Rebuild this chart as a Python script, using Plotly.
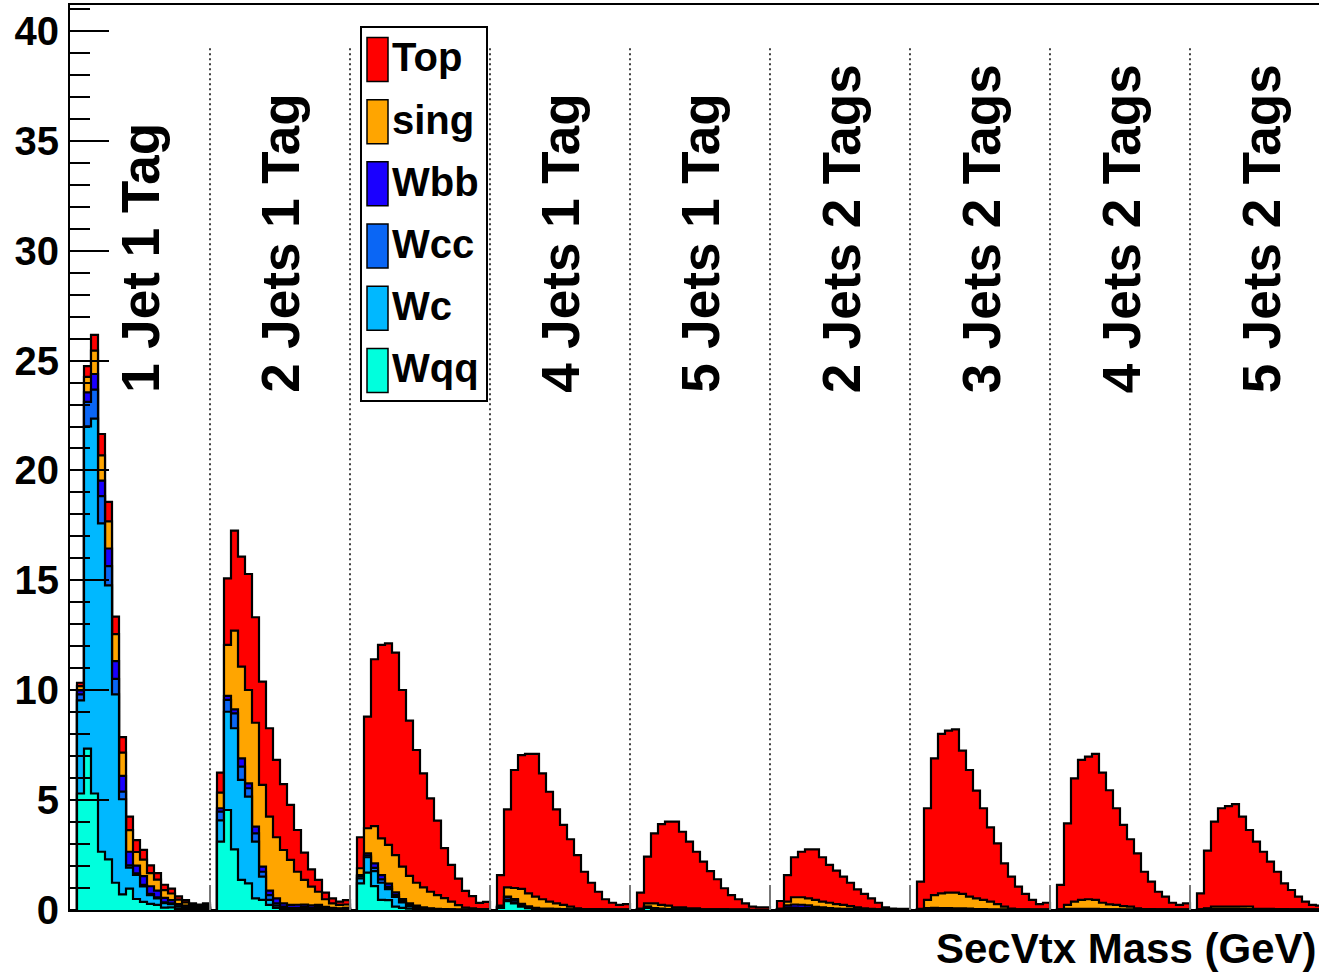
import plotly.graph_objects as go

# Analysis channels, each spanning 20 bins of the secondary-vertex mass histogram
CHANNELS = ["1 Jet 1 Tag", "2 Jets 1 Tag", "3 Jets 1 Tag", "4 Jets 1 Tag", "5 Jets 1 Tag",
            "2 Jets 2 Tags", "3 Jets 2 Tags", "4 Jets 2 Tags", "5 Jets 2 Tags"]
NBINS = 20

SAMPLES = ["Top", "sing", "Wbb", "Wcc", "Wc", "Wqq"]
COLORS = {"Top": "#ff0000", "sing": "#ffa500", "Wbb": "#1a00ff",
          "Wcc": "#0a66f5", "Wc": "#00b8ff", "Wqq": "#00ffdd"}

# Expected events per bin, one row per channel (bin 0 of each channel is empty)
TOP = [
    [0, 0.15, 0.49, 0.72, 0.97, 0.89, 0.80, 0.71, 0.62, 0.54, 0.45, 0.35, 0.30, 0.25, 0.22, 0.15, 0.10, 0.07, 0.06, 0.07],
    [0, 0.91, 3.03, 4.55, 5.01, 5.28, 4.80, 4.70, 4.02, 3.52, 3.00, 2.50, 1.90, 1.24, 0.79, 0.54, 0.30, 0.23, 0.15, 0.20],
    [0, 1.41, 5.08, 7.59, 8.80, 9.17, 9.21, 8.04, 7.07, 6.04, 5.19, 4.25, 3.39, 2.28, 1.67, 1.21, 0.76, 0.56, 0.28, 0.33],
    [0, 1.39, 3.55, 5.37, 6.09, 6.34, 6.49, 5.73, 5.00, 4.28, 3.64, 3.07, 2.42, 1.70, 1.20, 0.79, 0.46, 0.30, 0.21, 0.25],
    [0, 0.74, 2.13, 3.19, 3.68, 3.82, 3.90, 3.44, 3.03, 2.57, 2.17, 1.74, 1.37, 0.96, 0.66, 0.47, 0.28, 0.14, 0.11, 0.11],
    [0, 0.36, 1.21, 1.82, 2.07, 2.23, 2.30, 2.02, 1.72, 1.52, 1.29, 1.06, 0.82, 0.65, 0.48, 0.30, 0.09, 0.04, 0.03, 0.03],
    [0, 1.24, 4.17, 6.22, 7.25, 7.37, 7.43, 6.52, 5.76, 4.90, 4.17, 3.38, 2.76, 1.97, 1.46, 1.03, 0.70, 0.44, 0.25, 0.31],
    [0, 1.11, 3.71, 5.61, 6.37, 6.49, 6.64, 5.92, 5.19, 4.40, 3.69, 3.07, 2.50, 1.70, 1.25, 0.80, 0.58, 0.31, 0.21, 0.28],
    [0, 0.73, 2.62, 3.86, 4.47, 4.57, 4.66, 4.09, 3.48, 3.06, 2.60, 2.15, 1.70, 1.17, 0.88, 0.58, 0.36, 0.21, 0.18, 0.18],
]
SING = [
    [0, 0.20, 0.71, 1.06, 1.15, 1.23, 1.23, 1.06, 0.98, 0.62, 0.75, 0.60, 0.50, 0.35, 0.30, 0.20, 0.15, 0.10, 0.08, 0.10],
    [0, 0.71, 2.32, 3.58, 4.17, 4.25, 4.73, 3.72, 3.37, 2.78, 2.43, 2.05, 1.50, 1.12, 0.85, 0.60, 0.35, 0.20, 0.15, 0.15],
    [0, 0.31, 1.14, 1.70, 1.67, 1.76, 1.70, 1.47, 1.25, 1.04, 0.91, 0.75, 0.63, 0.50, 0.35, 0.20, 0.09, 0.05, 0.02, 0.02],
    [0, 0.05, 0.42, 0.50, 0.68, 0.59, 0.51, 0.43, 0.32, 0.25, 0.19, 0.12, 0.06, 0.02, 0.02, 0.02, 0.01, 0.01, 0.00, 0.00],
    [0, 0.00, 0.14, 0.21, 0.17, 0.16, 0.09, 0.09, 0.06, 0.06, 0.01, 0.01, 0.01, 0.01, 0.01, 0.01, 0.01, 0.01, 0.01, 0.01],
    [0, 0.00, 0.17, 0.33, 0.34, 0.32, 0.32, 0.26, 0.24, 0.21, 0.18, 0.13, 0.09, 0.05, 0.03, 0.01, 0.01, 0.00, 0.00, 0.00],
    [0, 0.01, 0.37, 0.58, 0.67, 0.70, 0.71, 0.66, 0.55, 0.49, 0.42, 0.36, 0.25, 0.13, 0.04, 0.01, 0.01, 0.00, 0.00, 0.00],
    [0, 0.01, 0.18, 0.33, 0.41, 0.44, 0.41, 0.29, 0.23, 0.20, 0.16, 0.13, 0.06, 0.02, 0.02, 0.01, 0.01, 0.00, 0.00, 0.00],
    [0, 0.01, 0.03, 0.10, 0.10, 0.10, 0.10, 0.11, 0.12, 0.03, 0.03, 0.03, 0.02, 0.02, 0.01, 0.01, 0.00, 0.00, 0.00, 0.00],
]
WBB = [
    [0, 0.18, 0.43, 0.71, 0.71, 0.80, 0.80, 0.71, 0.62, 0.35, 0.40, 0.35, 0.30, 0.20, 0.15, 0.10, 0.08, 0.05, 0.04, 0.05],
    [0, 0.15, 0.18, 0.18, 0.38, 0.22, 0.30, 0.23, 0.20, 0.23, 0.15, 0.13, 0.14, 0.10, 0.11, 0.10, 0.06, 0.04, 0.03, 0.04],
    [0, 0.05, 0.10, 0.20, 0.20, 0.15, 0.12, 0.10, 0.08, 0.06, 0.04, 0.03, 0.02, 0.01, 0.01, 0.01, 0.01, 0.01, 0.01, 0.01],
    [0, 0.01, 0.04, 0.05, 0.05, 0.04, 0.03, 0.02, 0.02, 0.02, 0.01, 0.01, 0.01, 0.01, 0.01, 0.01, 0.01, 0.01, 0.01, 0.01],
    [0, 0.01, 0.02, 0.02, 0.02, 0.02, 0.01, 0.01, 0.01, 0.01, 0.01, 0.01, 0.01, 0.01, 0.00, 0.00, 0.00, 0.00, 0.00, 0.00],
    [0, 0.01, 0.10, 0.14, 0.14, 0.12, 0.08, 0.08, 0.05, 0.03, 0.02, 0.02, 0.01, 0.01, 0.01, 0.01, 0.01, 0.01, 0.01, 0.01],
    [0, 0.01, 0.04, 0.05, 0.05, 0.05, 0.05, 0.04, 0.03, 0.02, 0.02, 0.01, 0.01, 0.01, 0.01, 0.01, 0.01, 0.01, 0.01, 0.01],
    [0, 0.01, 0.02, 0.02, 0.02, 0.02, 0.02, 0.02, 0.01, 0.01, 0.01, 0.01, 0.01, 0.01, 0.01, 0.01, 0.01, 0.01, 0.01, 0.01],
    [0, 0.01, 0.02, 0.03, 0.03, 0.03, 0.03, 0.02, 0.02, 0.01, 0.01, 0.01, 0.01, 0.01, 0.01, 0.01, 0.01, 0.01, 0.01, 0.01],
]
WCC = [
    [0, 0.27, 1.11, 1.32, 1.24, 0.88, 0.71, 0.35, 0.10, 0.07, 0.07, 0.05, 0.05, 0.04, 0.03, 0.02, 0.02, 0.01, 0.01, 0.01],
    [0, 0.40, 0.54, 0.68, 0.60, 0.38, 0.38, 0.22, 0.22, 0.10, 0.05, 0.04, 0.04, 0.05, 0.04, 0.05, 0.03, 0.02, 0.02, 0.02],
    [0, 0.10, 0.08, 0.15, 0.15, 0.10, 0.08, 0.05, 0.04, 0.03, 0.02, 0.01, 0.01, 0.01, 0.00, 0.00, 0.00, 0.00, 0.00, 0.00],
    [0, 0.01, 0.12, 0.10, 0.03, 0.02, 0.01, 0.01, 0.01, 0.01, 0.01, 0.01, 0.00, 0.00, 0.00, 0.00, 0.00, 0.00, 0.00, 0.00],
    [0, 0.01, 0.02, 0.01, 0.01, 0.00, 0.00, 0.00, 0.00, 0.00, 0.00, 0.00, 0.00, 0.00, 0.00, 0.00, 0.00, 0.00, 0.00, 0.00],
    [0, 0.01, 0.04, 0.04, 0.04, 0.04, 0.03, 0.02, 0.02, 0.01, 0.01, 0.01, 0.01, 0.01, 0.00, 0.00, 0.00, 0.00, 0.00, 0.00],
    [0, 0.01, 0.02, 0.02, 0.02, 0.02, 0.01, 0.01, 0.01, 0.01, 0.01, 0.00, 0.00, 0.00, 0.00, 0.00, 0.00, 0.00, 0.00, 0.00],
    [0, 0.00, 0.01, 0.01, 0.01, 0.01, 0.01, 0.01, 0.01, 0.01, 0.00, 0.00, 0.00, 0.00, 0.00, 0.00, 0.00, 0.00, 0.00, 0.00],
    [0, 0.00, 0.01, 0.01, 0.01, 0.01, 0.01, 0.01, 0.01, 0.00, 0.00, 0.00, 0.00, 0.00, 0.00, 0.00, 0.00, 0.00, 0.00, 0.00],
]
WC = [
    [0, 4.24, 14.67, 17.06, 14.94, 12.47, 8.57, 4.33, 0.96, 1.10, 0.70, 0.40, 0.30, 0.20, 0.15, 0.10, 0.06, 0.04, 0.03, 0.04],
    [0, 0.97, 4.47, 5.51, 4.55, 3.95, 2.58, 1.06, 0.23, 0.10, 0.05, 0.03, 0.03, 0.05, 0.03, 0.04, 0.03, 0.02, 0.02, 0.02],
    [0, 0.23, 0.70, 0.68, 0.78, 0.50, 0.45, 0.25, 0.12, 0.07, 0.04, 0.02, 0.01, 0.01, 0.01, 0.00, 0.00, 0.00, 0.00, 0.00],
    [0, 0.03, 0.05, 0.05, 0.05, 0.03, 0.02, 0.01, 0.01, 0.01, 0.01, 0.00, 0.00, 0.00, 0.00, 0.00, 0.00, 0.00, 0.00, 0.00],
    [0, 0.01, 0.02, 0.02, 0.01, 0.01, 0.01, 0.01, 0.00, 0.00, 0.00, 0.00, 0.00, 0.00, 0.00, 0.00, 0.00, 0.00, 0.00, 0.00],
    [0, 0.01, 0.03, 0.04, 0.03, 0.03, 0.02, 0.01, 0.01, 0.01, 0.01, 0.01, 0.00, 0.00, 0.00, 0.00, 0.00, 0.00, 0.00, 0.00],
    [0, 0.01, 0.01, 0.01, 0.01, 0.01, 0.01, 0.01, 0.01, 0.00, 0.00, 0.00, 0.00, 0.00, 0.00, 0.00, 0.00, 0.00, 0.00, 0.00],
    [0, 0.00, 0.01, 0.01, 0.01, 0.01, 0.01, 0.00, 0.00, 0.00, 0.00, 0.00, 0.00, 0.00, 0.00, 0.00, 0.00, 0.00, 0.00, 0.00],
    [0, 0.00, 0.01, 0.01, 0.01, 0.01, 0.01, 0.01, 0.00, 0.00, 0.00, 0.00, 0.00, 0.00, 0.00, 0.00, 0.00, 0.00, 0.00, 0.00],
]
WQQ = [
    [0, 5.30, 7.34, 5.30, 2.65, 2.30, 1.24, 0.71, 0.97, 0.50, 0.37, 0.28, 0.23, 0.11, 0.12, 0.05, 0.04, 0.03, 0.03, 0.03],
    [0, 3.11, 4.55, 2.76, 1.37, 1.21, 0.53, 0.46, 0.23, 0.10, 0.05, 0.03, 0.03, 0.05, 0.03, 0.04, 0.02, 0.02, 0.01, 0.02],
    [0, 1.21, 1.70, 1.09, 0.46, 0.45, 0.15, 0.10, 0.06, 0.04, 0.02, 0.02, 0.01, 0.01, 0.01, 0.01, 0.01, 0.01, 0.01, 0.01],
    [0, 0.10, 0.40, 0.30, 0.15, 0.08, 0.04, 0.02, 0.02, 0.01, 0.01, 0.01, 0.01, 0.01, 0.01, 0.01, 0.01, 0.01, 0.01, 0.01],
    [0, 0.02, 0.10, 0.04, 0.02, 0.01, 0.01, 0.01, 0.01, 0.01, 0.01, 0.01, 0.01, 0.01, 0.01, 0.01, 0.01, 0.00, 0.00, 0.00],
    [0, 0.02, 0.04, 0.03, 0.03, 0.02, 0.01, 0.01, 0.01, 0.01, 0.01, 0.01, 0.01, 0.01, 0.01, 0.01, 0.01, 0.01, 0.01, 0.01],
    [0, 0.01, 0.02, 0.02, 0.01, 0.01, 0.01, 0.01, 0.01, 0.01, 0.01, 0.01, 0.01, 0.01, 0.01, 0.01, 0.01, 0.01, 0.01, 0.01],
    [0, 0.01, 0.01, 0.01, 0.01, 0.01, 0.01, 0.01, 0.01, 0.01, 0.01, 0.01, 0.01, 0.01, 0.01, 0.01, 0.01, 0.01, 0.01, 0.01],
    [0, 0.01, 0.01, 0.01, 0.01, 0.01, 0.01, 0.01, 0.01, 0.01, 0.01, 0.01, 0.01, 0.01, 0.01, 0.01, 0.01, 0.01, 0.01, 0.01],
]

Y_TICKS = [0, 5, 10, 15, 20, 25, 30, 35, 40]
X_TITLE = "SecVtx Mass (GeV)"

FONT = "Liberation Sans, Arial, Helvetica, sans-serif"
YMAX = 41.18
XMAX = 178.43  # the frame runs past the right border of the canvas


def flat(rows):
    return [v for row in rows for v in row]


per_sample = {"Top": flat(TOP), "sing": flat(SING), "Wbb": flat(WBB),
              "Wcc": flat(WCC), "Wc": flat(WC), "Wqq": flat(WQQ)}
nall = len(CHANNELS) * NBINS
edges = list(range(nall + 1))

# stack from the bottom (Wqq) up to Top
stack_order = ["Wqq", "Wc", "Wcc", "Wbb", "sing", "Top"]
cumulative = {}
running = [0.0] * nall
for name in stack_order:
    running = [a + b for a, b in zip(running, per_sample[name])]
    cumulative[name] = running

fig = go.Figure()
# draw the tallest stack first so each lower component is painted over it
for name in reversed(stack_order):
    vals = cumulative[name]
    fig.add_trace(go.Scatter(
        x=edges, y=vals + [vals[-1]], mode="lines", line_shape="hv",
        line=dict(color="black", width=2.2), fill="tozeroy",
        fillcolor=COLORS[name], name=name, showlegend=False, hoverinfo="skip"))

# dotted separators between channels
for k in range(1, len(CHANNELS)):
    fig.add_shape(type="line", xref="x", yref="y", x0=k * NBINS, x1=k * NBINS,
                  y0=1.35, y1=39.3, line=dict(color="black", width=1.5, dash="2px,3px"),
                  layer="above")

# channel names, written upward; the legend box sits over the 3-jet 1-tag panel
for k, label in enumerate(CHANNELS):
    if k == 2:
        continue
    fig.add_annotation(x=k * NBINS + 10.14, y=23.44, xref="x", yref="y",
                       text=label, textangle=-90, showarrow=False,
                       xanchor="center", yanchor="bottom",
                       font=dict(family=FONT, size=53, color="black", weight="bold"))


# legend box, built from shapes and text in pixel terms
def px_x(p):
    return (p - 70) / 7.0


def px_y(p):
    return (910 - p) / 21.975


fig.add_shape(type="rect", xref="x", yref="y", x0=px_x(361), x1=px_x(487),
              y0=px_y(401), y1=px_y(27), fillcolor="white",
              line=dict(color="black", width=2), layer="above")
for i, name in enumerate(SAMPLES):
    top = 37.5 + 62.2 * i
    fig.add_shape(type="rect", xref="x", yref="y", x0=px_x(367), x1=px_x(388),
                  y0=px_y(top + 44), y1=px_y(top), fillcolor=COLORS[name],
                  line=dict(color="black", width=1.5), layer="above")
    fig.add_annotation(x=px_x(390), y=px_y(top + 20), xref="x", yref="y",
                       text=name, showarrow=False, xanchor="left", yanchor="middle",
                       font=dict(family=FONT, size=40, color="black", weight="bold"))

fig.add_annotation(x=1.0, y=-0.043, xref="paper", yref="paper", text=X_TITLE,
                   showarrow=False, xanchor="right", yanchor="middle", xshift=0,
                   font=dict(family=FONT, size=42, color="black", weight="bold"))

fig.update_xaxes(range=[0, XMAX], showgrid=False, zeroline=False,
                 showline=True, linecolor="black", linewidth=2, mirror=True,
                 showticklabels=False, ticks="inside", ticklen=25,
                 tickcolor="#777777", tickwidth=1.5,
                 tickvals=[k * NBINS for k in range(1, len(CHANNELS))])
fig.update_yaxes(range=[0, YMAX], showgrid=False, zeroline=False,
                 showline=True, linecolor="black", linewidth=2, mirror=False,
                 tickvals=Y_TICKS, ticks="inside", ticklen=39, tickwidth=2,
                 tickcolor="black", ticklabelstandoff=1,
                 tickfont=dict(family=FONT, size=40, color="black", weight="bold"),
                 minor=dict(ticks="inside", ticklen=20, dtick=1, tickwidth=2,
                            tickcolor="black", showgrid=False))

fig.update_layout(width=1319, height=975, paper_bgcolor="white", plot_bgcolor="white",
                  margin=dict(l=70, r=0, t=5, b=65), showlegend=False)

fig.write_html("out.html")
